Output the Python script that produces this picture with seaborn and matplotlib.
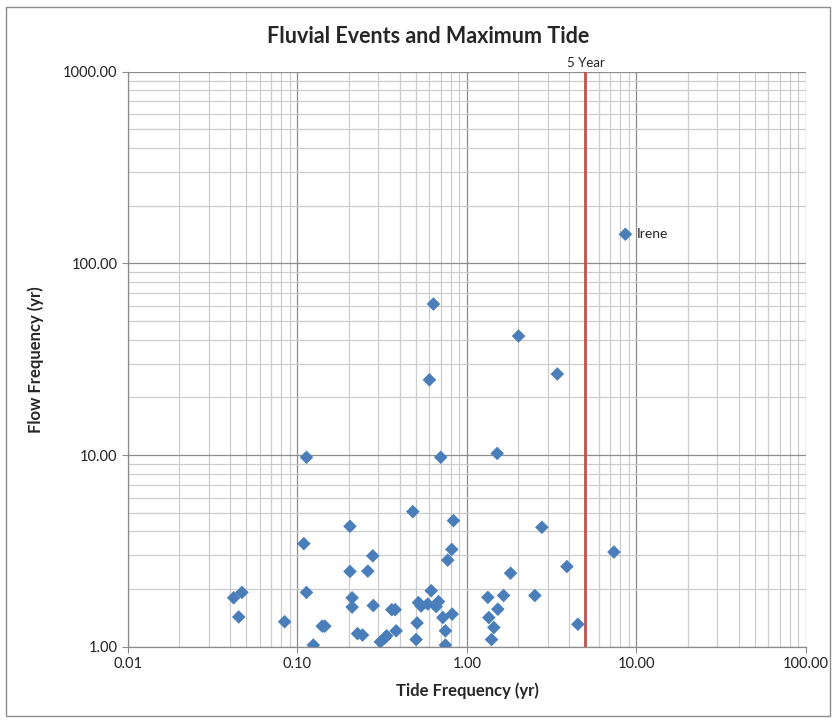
import matplotlib
matplotlib.use("Agg")
import matplotlib.pyplot as plt
import matplotlib.ticker as mticker
from matplotlib.patches import Rectangle
import seaborn as sns
import pandas as pd

tide_freq = [0.042, 0.047, 0.045, 0.084, 0.109, 0.113, 0.124, 0.140, 0.145,
             0.204, 0.204, 0.210, 0.210, 0.260, 0.278, 0.280, 0.226, 0.242,
             0.308, 0.327, 0.336, 0.382, 0.360, 0.377, 0.479, 0.508, 0.501,
             0.517, 0.536, 0.587, 0.615, 0.658, 0.679, 0.720, 0.746, 0.746,
             0.770, 0.813, 0.832, 0.818, 1.327, 1.643, 1.520, 1.345, 1.440,
             1.395, 1.807, 2.766, 2.515, 3.886, 4.510, 7.360,
             0.634, 2.015, 0.600, 0.113, 0.700, 1.507, 3.410]
flow_freq = [1.80, 1.92, 1.43, 1.35, 3.45, 1.92, 1.02, 1.28, 1.28,
             4.25, 2.47, 1.80, 1.61, 2.48, 2.98, 1.64, 1.17, 1.15,
             1.06, 1.11, 1.14, 1.21, 1.56, 1.56, 5.07, 1.33, 1.09,
             1.70, 1.63, 1.67, 1.96, 1.62, 1.72, 1.42, 1.21, 1.02,
             2.83, 3.22, 4.55, 1.48, 1.81, 1.85, 1.57, 1.42, 1.26,
             1.09, 2.42, 4.20, 1.85, 2.62, 1.31, 3.12,
             61.4, 41.8, 24.7, 9.74, 9.74, 10.2, 26.5]
irene_tide = [8.6]
irene_flow = [142.0]
irene_label = "Irene"
threshold_x = 5.0
threshold_label = "5 Year"
x_ticks = [0.01, 0.1, 1, 10, 100]
y_ticks = [1, 10, 100, 1000]

df = pd.DataFrame({"tide": tide_freq + irene_tide, "flow": flow_freq + irene_flow})

sns.set_theme(style="white")
plt.rcParams["font.family"] = ["Lato", "DejaVu Sans"]

fig = plt.figure(figsize=(8.36, 7.23), dpi=100)
ax = fig.add_axes([0.1531, 0.1055, 0.9641 - 0.1531, 0.9007 - 0.1055])

ax.set_xscale("log")
ax.set_yscale("log")
ax.set_xlim(0.01, 100)
ax.set_ylim(1, 1000)

ax.xaxis.set_minor_locator(mticker.LogLocator(base=10, subs=range(2, 10), numticks=20))
ax.yaxis.set_minor_locator(mticker.LogLocator(base=10, subs=range(2, 10), numticks=20))
ax.set_xticks(x_ticks)
ax.set_yticks(y_ticks)
ax.xaxis.set_major_formatter(mticker.FuncFormatter(lambda v, p: f"{v:.2f}"))
ax.yaxis.set_major_formatter(mticker.FuncFormatter(lambda v, p: f"{v:.2f}"))
ax.xaxis.set_minor_formatter(mticker.NullFormatter())
ax.yaxis.set_minor_formatter(mticker.NullFormatter())

ax.grid(True, which="major", color="#8c8c8c", linewidth=0.9, zorder=0)
ax.grid(True, which="minor", color="#cccccc", linewidth=0.9, zorder=0)
ax.set_axisbelow(True)

ax.axvline(threshold_x, color="#c0504d", linewidth=2.0, zorder=2)
ax.text(threshold_x, 1030, threshold_label, ha="center", va="bottom", fontsize=9.5, color="#222222")

sns.scatterplot(data=df, x="tide", y="flow", ax=ax, marker="D", s=48,
                color="#4a7ebb", edgecolor="none", zorder=3, legend=False)

ax.annotate(irene_label, (irene_tide[0], irene_flow[0]), xytext=(8, 0),
            textcoords="offset points", va="center", ha="left", fontsize=10, color="#222222")

for s in ["top", "right"]:
    ax.spines[s].set_visible(False)
for s in ["left", "bottom"]:
    ax.spines[s].set_color("#8c8c8c")
    ax.spines[s].set_linewidth(0.9)

ax.tick_params(axis="both", which="major", direction="out", length=4, width=0.8,
               color="#8c8c8c", labelsize=10.5, labelcolor="#222222", bottom=True, left=True)
ax.tick_params(axis="both", which="minor", length=0)

ax.set_xlabel("Tide Frequency (yr)", fontsize=12, fontweight="bold", labelpad=8)
ax.set_ylabel("Flow Frequency (yr)", fontsize=12, fontweight="bold", labelpad=14)

fig.text(0.512, 0.949, "Fluvial Events and Maximum Tide", ha="center", va="center",
         fontsize=15.5, fontweight="bold")

fig.patches.append(Rectangle((0.007, 0.01), 0.986, 0.98, transform=fig.transFigure,
                             fill=False, edgecolor="#8c8c8c", linewidth=1.0))

fig.savefig("out.png", dpi=100)
